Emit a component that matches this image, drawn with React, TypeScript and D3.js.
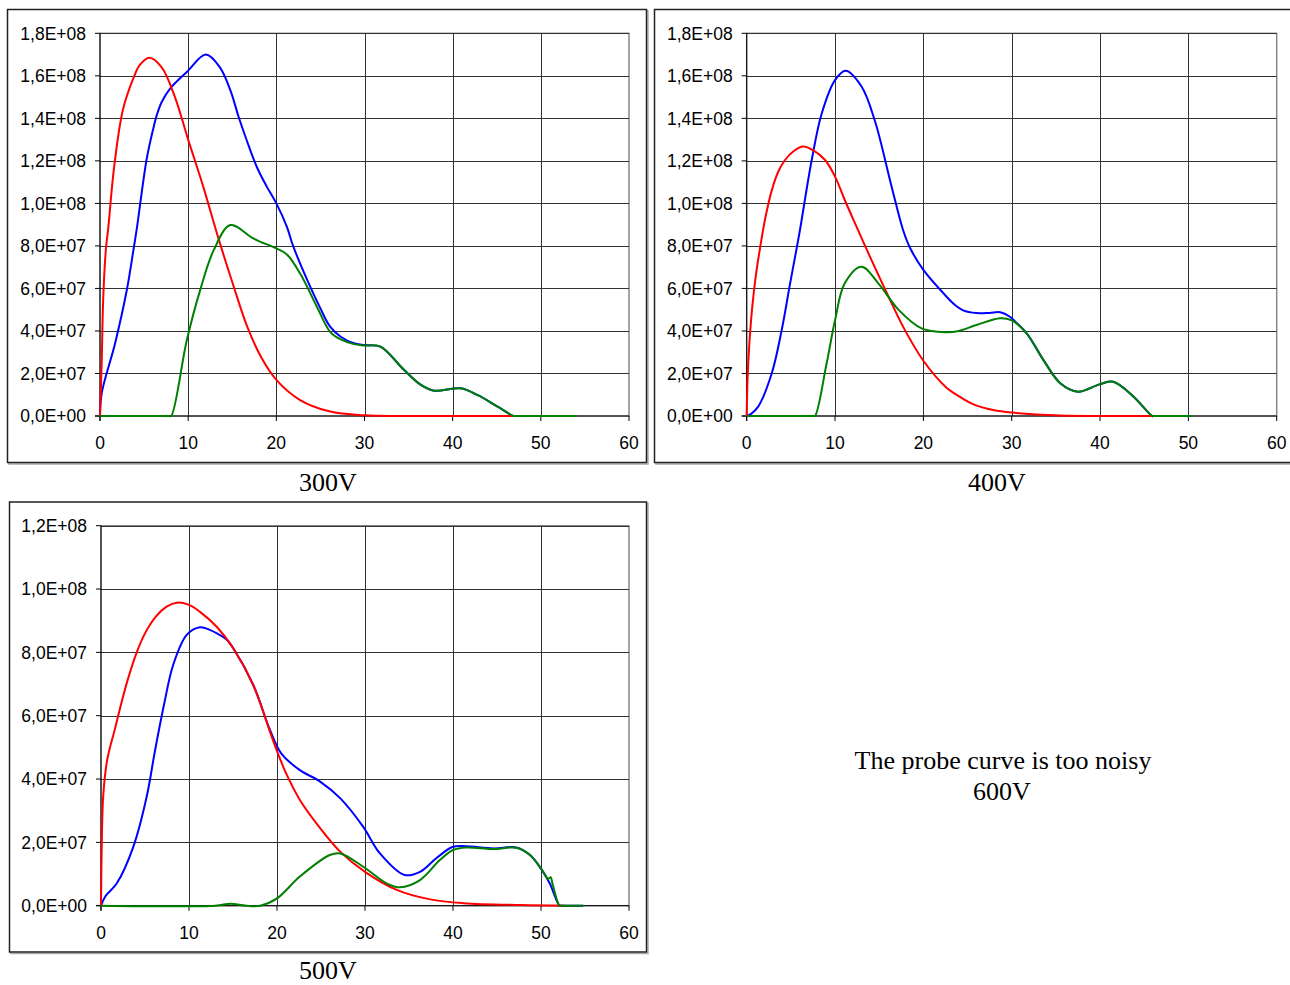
import * as d3 from 'd3';

// values read in units of 1E+07, x = energy (0..60)
const UNIT = 1e7;
const X_TICKS = [0, 10, 20, 30, 40, 50, 60];

const red300: [number, number][] = [
  [0, 0], [0.19, 2.5], [0.37, 5.6], [0.68, 7.9], [0.95, 8.9], [1.6, 11.7], [2.6, 14.4], [3.8, 15.9],
  [4.5, 16.5], [5.6, 16.85], [7, 16.4], [8.5, 15.0], [10, 13.0], [11.7, 10.8], [13.4, 8.4],
  [15, 6.3], [16.7, 4.2], [18.3, 2.75], [20, 1.7], [22.7, 0.75], [26, 0.22], [30, 0.03],
  [35, 0], [54, 0],
];
const blue300: [number, number][] = [
  [0, 0], [0.19, 1.07], [1.7, 3.4], [3.03, 5.9], [3.79, 7.8], [4.17, 8.8], [5.3, 12.1],
  [6.06, 13.55], [6.44, 14.15], [7.0, 14.77], [7.95, 15.4], [9.85, 16.18], [12, 17.0],
  [13.6, 16.4], [14.8, 15.3], [15.7, 14.1], [16.7, 12.9], [17.8, 11.7], [18.9, 10.8], [20, 10.0],
  [21.2, 8.9], [21.9, 8.0], [23.5, 6.4], [25, 5.06], [26.1, 4.2], [27.3, 3.73], [28.8, 3.42],
  [30, 3.34], [31.8, 3.26], [34.5, 2.16], [36.4, 1.46], [37.9, 1.19], [40.9, 1.3], [42.8, 0.99],
  [45.1, 0.44], [46.9, 0], [47.1, 0], [54, 0],
];
const green300: [number, number][] = [
  [0, 0], [7.8, 0], [8.07, 0], [9.85, 3.57], [11.36, 5.92], [12.9, 7.8], [14.8, 8.98], [17.4, 8.35],
  [20, 7.88], [21.2, 7.6], [22.7, 6.7], [24.6, 5.14], [26.1, 3.96], [27.3, 3.6], [28.8, 3.38],
  [30, 3.32], [31.8, 3.26], [34.5, 2.16], [36.4, 1.46], [37.9, 1.19], [40.9, 1.3], [42.8, 0.99],
  [45.1, 0.44], [46.9, 0], [47.1, 0], [54, 0],
];

const red400: [number, number][] = [
  [0, 0], [0.1, 1.8], [0.3, 3.4], [0.6, 5.0], [1.0, 6.5], [1.51, 7.9], [2.1, 9.3], [2.83, 10.6],
  [3.58, 11.5], [4.34, 12.04], [5.3, 12.45], [6.4, 12.67], [7.5, 12.5], [8.87, 12.04], [10, 11.26],
  [11.1, 10.16], [12.6, 8.75], [13.4, 8.0], [15.7, 5.93], [17.9, 4.05], [20, 2.6], [22.5, 1.38],
  [24.1, 0.91], [25.8, 0.52], [27.9, 0.28], [30, 0.16], [35.5, 0.02], [40, 0], [50.4, 0],
];
const blue400: [number, number][] = [
  [0, 0], [0.5, 0.1], [1.3, 0.44], [2.83, 2.0], [3.96, 4.04], [4.9, 6.2], [5.66, 7.9], [6.03, 8.75],
  [7.36, 12.04], [8.5, 14.24], [10, 15.8], [11.2, 16.24], [13, 15.5], [14.5, 13.9], [16.4, 10.8],
  [17.7, 8.75], [18.5, 7.9], [20, 6.87], [22.45, 5.69], [23.5, 5.25], [24.5, 4.97], [26, 4.84],
  [27.5, 4.85], [28.7, 4.88], [29.8, 4.67], [30.5, 4.4], [31.7, 3.89], [33.6, 2.63], [35.5, 1.54],
  [37.5, 1.14], [40, 1.5], [41.5, 1.61], [43.8, 0.91], [45.9, 0], [46.1, 0], [50.4, 0],
];
const green400: [number, number][] = [
  [0, 0], [7.5, 0], [7.73, 0], [9.05, 2.48], [10, 4.5], [11.1, 6.24], [13, 7.02], [14.9, 6.24],
  [17.2, 4.99], [19.8, 4.12], [22.5, 3.94], [24, 4.0], [26, 4.28], [28.7, 4.6], [30, 4.5],
  [31.7, 3.89], [33.6, 2.63], [35.5, 1.54], [37.5, 1.14], [40, 1.5], [41.5, 1.61], [43.8, 0.91],
  [45.9, 0], [46.1, 0], [50.4, 0],
];

const red500: [number, number][] = [
  [0, 0], [0.1, 2.2], [0.26, 3.5], [0.7, 4.6], [1.6, 5.6], [2.16, 6.23], [3, 7.1], [4.06, 8.0],
  [5, 8.6], [6.3, 9.15], [7.5, 9.45], [8.6, 9.57], [10, 9.5], [11.25, 9.28], [13.15, 8.81],
  [15.03, 8.13], [17.3, 6.97], [19.6, 5.18], [21, 4.2], [22.6, 3.34], [24.9, 2.45], [27.2, 1.7],
  [30, 1.07], [33.6, 0.5], [37.4, 0.2], [41.2, 0.08], [47.6, 0.02], [52.7, 0],
];
const blue500: [number, number][] = [
  [0, 0], [0.5, 0.3], [1.78, 0.7], [3.67, 1.86], [5.19, 3.44], [6.14, 4.9], [7.2, 6.4], [8.2, 7.6],
  [9.74, 8.55], [11.25, 8.79], [12.3, 8.72], [13.3, 8.58], [14.3, 8.4], [15.03, 8.13], [17.3, 6.97],
  [19.2, 5.55], [20.5, 4.8], [22.6, 4.28], [24.9, 3.92], [27.2, 3.39], [29.8, 2.49], [31.7, 1.65],
  [34.5, 0.97], [36.25, 1.07], [38.1, 1.5], [40, 1.86], [41.5, 1.88], [44.6, 1.81], [47.2, 1.84],
  [48.75, 1.6], [50.1, 1.13], [51, 0.7], [52.1, 0], [52.3, 0], [54.8, 0],
];
const green500: [number, number][] = [
  [0, 0], [13, 0], [14.7, 0.06], [16.5, 0], [18.1, 0], [20, 0.23], [22.6, 0.92], [26, 1.6],
  [27.2, 1.65], [29.8, 1.23], [32.5, 0.7], [34, 0.58], [36.25, 0.81], [38.5, 1.44], [40, 1.76],
  [41.5, 1.84], [44.6, 1.79], [47.2, 1.83], [48.75, 1.6], [50.1, 1.13], [50.8, 0.85], [51.1, 0.9],
  [51.3, 0.7], [52.1, 0], [52.3, 0], [54.8, 0],
];

const COLORS = { red: '#ff0000', blue: '#0000ff', green: '#008000' };
const SANS = "'Liberation Sans', Arial, sans-serif";
const SERIF = "'Liberation Serif', 'Times New Roman', serif";

const sci = (v: number) => {
  if (v === 0) return '0,0E+00';
  const e = Math.floor(Math.log10(v) + 1e-9);
  const m = v / Math.pow(10, e);
  return m.toFixed(1).replace('.', ',') + 'E+' + String(e).padStart(2, '0');
};

type PanelProps = {
  frame: [number, number, number, number];
  plot: { left: number; right: number; top: number; bottom: number };
  yMax: number;
  red: [number, number][];
  blue: [number, number][];
  green: [number, number][];
  title: string;
  titleX: number;
  titleY: number;
};

function Panel({ frame, plot, yMax, red, blue, green, title, titleX, titleY }: PanelProps) {
  const x = d3.scaleLinear().domain([0, 60]).range([plot.left, plot.right]);
  const y = d3.scaleLinear().domain([0, yMax * UNIT]).range([plot.bottom, plot.top]);
  const yTicks = d3.range(0, yMax + 0.001, 2).map(t => t * UNIT);
  const line = d3.line<[number, number]>()
    .x(d => x(d[0]))
    .y(d => y(d[1] * UNIT))
    .curve(d3.curveCatmullRom.alpha(0.5));
  const [fx, fy, fw, fh] = frame;

  return (
    <g>
      <rect x={fx + 1.5} y={fy + 1.5} width={fw} height={fh} fill="none" stroke="#aaa" strokeWidth={1.5} />
      <rect x={fx} y={fy} width={fw} height={fh} fill="#fff" stroke="#222" strokeWidth={1.5} />
      <rect x={plot.left} y={plot.top} width={plot.right - plot.left} height={plot.bottom - plot.top}
        fill="none" stroke="#888" strokeWidth={1.5} />
      {yTicks.slice(1).map(t => (
        <line key={'h' + t} x1={plot.left} x2={plot.right} y1={Math.round(y(t)) + 0.5} y2={Math.round(y(t)) + 0.5}
          stroke="#333" strokeWidth={1} />
      ))}
      {X_TICKS.slice(1, -1).map(t => (
        <line key={'v' + t} x1={Math.round(x(t)) + 0.5} x2={Math.round(x(t)) + 0.5} y1={plot.top} y2={plot.bottom}
          stroke="#333" strokeWidth={1} />
      ))}
      <line x1={plot.left} x2={plot.left} y1={plot.top} y2={plot.bottom + 5} stroke="#000" strokeWidth={1} />
      <line x1={plot.left - 5} x2={plot.right} y1={plot.bottom} y2={plot.bottom} stroke="#000" strokeWidth={1} />
      {yTicks.map(t => (
        <g key={'yt' + t}>
          <line x1={plot.left - 5} x2={plot.left} y1={y(t)} y2={y(t)} stroke="#000" />
          <text x={plot.left - 14} y={y(t)} dy="0.36em" textAnchor="end"
            fontFamily={SANS} fontSize={17.5} fill="#000">{sci(t)}</text>
        </g>
      ))}
      {X_TICKS.map(t => (
        <g key={'xt' + t}>
          <line x1={x(t)} x2={x(t)} y1={plot.bottom} y2={plot.bottom + 5} stroke="#000" />
          <text x={x(t)} y={plot.bottom + 33} textAnchor="middle"
            fontFamily={SANS} fontSize={17.5} fill="#000">{t}</text>
        </g>
      ))}
      <path d={line(blue) ?? ''} fill="none" stroke={COLORS.blue} strokeWidth={2} />
      <path d={line(red) ?? ''} fill="none" stroke={COLORS.red} strokeWidth={2} />
      <path d={line(green) ?? ''} fill="none" stroke={COLORS.green} strokeWidth={2} />
      <text x={titleX} y={titleY} textAnchor="middle" fontFamily={SERIF} fontSize={26} fill="#000">{title}</text>
    </g>
  );
}

export default function App() {
  return (
    <div style={{ position: 'absolute', left: 0, top: 0 }}>
      <svg width={1290} height={985} style={{ display: 'block', background: '#fff' }}>
        <Panel frame={[7.5, 9.5, 639, 453]} plot={{ left: 100, right: 629, top: 33.3, bottom: 416 }} yMax={18}
          red={red300} blue={blue300} green={green300} title="300V" titleX={328} titleY={491} />
        <Panel frame={[654.5, 9.5, 641, 453]} plot={{ left: 746.7, right: 1276.7, top: 33.3, bottom: 416 }} yMax={18}
          red={red400} blue={blue400} green={green400} title="400V" titleX={997} titleY={491} />
        <Panel frame={[9.5, 502, 637, 450]} plot={{ left: 101, right: 629, top: 525.7, bottom: 905.7 }} yMax={12}
          red={red500} blue={blue500} green={green500} title="500V" titleX={328} titleY={979} />
        <text x={1003} y={769} textAnchor="middle" fontFamily={SERIF} fontSize={26} fill="#000">
          The probe curve is too noisy
        </text>
        <text x={1002} y={800} textAnchor="middle" fontFamily={SERIF} fontSize={26} fill="#000">600V</text>
      </svg>
    </div>
  );
}
